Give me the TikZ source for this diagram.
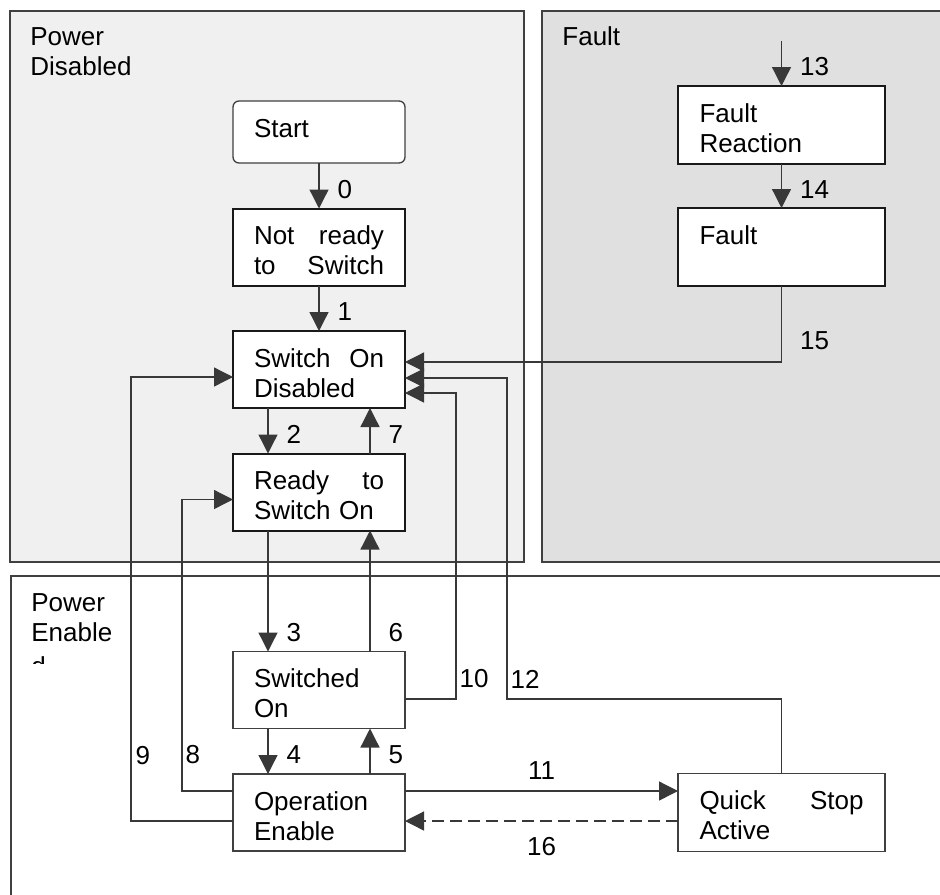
\documentclass[tikz,border=0pt]{standalone}
\usepackage{fontspec}
\setmainfont{Liberation Sans}
\usepackage{tikz}
\usetikzlibrary{arrows.meta, positioning}
\definecolor{pdfill}{HTML}{F0F0F0}
\definecolor{faultfill}{HTML}{E0E0E0}
\definecolor{myborder}{HTML}{404040}
\definecolor{myline}{HTML}{383838}
\tikzset{
groupbox/.style={
draw=myborder,
line width=0.8pt
},
grouplabel/.style={
align=left,
text width=70pt,
inner sep=0pt,
anchor=base west
},
statebox/.style={
draw=black!90,
fill=white,
line width=1pt,
align=left,
text width=65pt,
inner xsep=10.5pt,
inner ysep=0pt,
outer sep=0pt,
text height=18pt,
text depth=20.5pt
},
statelight/.style={
statebox,
draw=myborder,
line width=0.7pt
},
widebox/.style={
text width=82pt,
inner xsep=10.75pt,
text depth=21pt
},
translabel/.style={
inner sep=0pt
},
flow/.style={
-{Triangle[length=9.5pt,width=9.5pt]},
line width=0.65pt,
draw=myline
}
}

\begin{document}
\begin{tikzpicture}[
x=0.5pt, y=-0.5pt,
font=\fontsize{13pt}{15pt}\selectfont
]
\clip (0,0) rectangle (940,894);

% the three groups
\draw[groupbox, fill=pdfill] (10,11) rectangle (524,562);
\draw[groupbox, fill=faultfill] (542,11) rectangle (960,562);
\draw[groupbox, fill=white] (11,576) rectangle (960,920);

\node[grouplabel] (pdlabel) at (30,45) {Power\\Disabled};
\node[grouplabel] (faultlabel) at (562,45) {Fault};
\begin{scope}
  \clip (11,576) rectangle (200,663);
  \node[grouplabel] (pelabel) at (31,611) {Power\\Enable\\[2pt]d};
\end{scope}

% states
\node[statebox, rounded corners=3pt, draw=myborder, line width=0.65pt, text depth=13pt]
  (start) at (319,132) {Start};
\node[statebox, below=22.75pt of start] (notready) {Not\hfill ready\\to\hfill Switch};
\node[statebox, below=22.75pt of notready] (sod) {Switch\hfill On\\Disabled};
\node[statebox, below=22.75pt of sod] (rtso) {Ready\hfill to\\Switch On};
\node[statelight, below=60.5pt of rtso] (so) {Switched\\On};
\node[statelight, below=22.75pt of so] (oe) {Operation\\Enable};
\node[statelight, widebox, right=136.5pt of oe] (qsa) {Quick\hfill Stop\\Active};

\node[statebox, widebox] (fr) at (781.5,125) {Fault\\Reaction};
\node[statebox, widebox, below=22pt of fr] (fault) {Fault};
\coordinate (faulttrigger) at (781.5,41);

% transitions
\draw[flow] (start) -- node[translabel, pos=0.58, right=9pt] (l0) {0} (notready);
\draw[flow] (notready) -- node[translabel, pos=0.58, right=9pt] (l1) {1} (sod);
\draw[flow] ([xshift=-25.5pt]sod.south) --
  node[translabel, pos=0.58, right=9pt] (l2) {2} ([xshift=-25.5pt]rtso.north);
\draw[flow] ([xshift=-25.5pt]rtso.south) --
  node[translabel, pos=0.84, right=9pt] (l3) {3} ([xshift=-25.5pt]so.north);
\draw[flow] ([xshift=-25.5pt]so.south) --
  node[translabel, pos=0.58, right=9pt] (l4) {4} ([xshift=-25.5pt]oe.north);
\draw[flow] ([xshift=25.5pt]oe.north) --
  node[translabel, pos=0.42, right=9pt] (l5) {5} ([xshift=25.5pt]so.south);
\draw[flow] ([xshift=25.5pt]so.north) --
  node[translabel, pos=0.16, right=9pt] (l6) {6} ([xshift=25.5pt]rtso.south);
\draw[flow] ([xshift=25.5pt]rtso.north) --
  node[translabel, pos=0.42, right=9pt] (l7) {7} ([xshift=25.5pt]sod.south);

\draw[flow] ([yshift=10.75pt]oe.west) -- ++(-25.5pt,0pt) |-
  node[translabel, pos=0.062, right=1.5pt] (l8) {8} ([yshift=-3.75pt]rtso.west);
\draw[flow] ([yshift=-4.25pt]oe.west) -- ++(-51pt,0pt) |-
  node[translabel, pos=0.074, right=2pt] (l9) {9} ([yshift=-3.75pt]sod.west);
\draw[flow] ([yshift=-4.5pt]so.east) -- ++(25.5pt,0pt) |-
  node[translabel, pos=0.033, right=1.5pt] (l10) {10} ([yshift=-11.75pt]sod.east);
\draw[flow] ([yshift=10.75pt]oe.east) --
  node[translabel, above=5.5pt] (l11) {11} ([yshift=10.75pt]qsa.west);
\draw[flow] (qsa.north) |- ([xshift=51pt,yshift=-4.5pt]so.east) |-
  node[translabel, pos=0.031, right=1.5pt] (l12) {12} ([yshift=-4.25pt]sod.east);

\draw[flow] (faulttrigger) -- node[translabel, pos=0.56, right=9pt] (l13) {13} (fr);
\draw[flow] (fr) -- node[translabel, pos=0.57, right=9pt] (l14) {14} (fault);
\draw[flow] (fault.south) |-
  node[translabel, pos=0.36, right=9pt] (l15) {15} ([yshift=3.75pt]sod.east);
\draw[flow, dash pattern=on 6pt off 3pt] ([yshift=-4.25pt]qsa.west) --
  node[translabel, below=8pt] (l16) {16} ([yshift=-4.25pt]oe.east);

\end{tikzpicture}
\end{document}
